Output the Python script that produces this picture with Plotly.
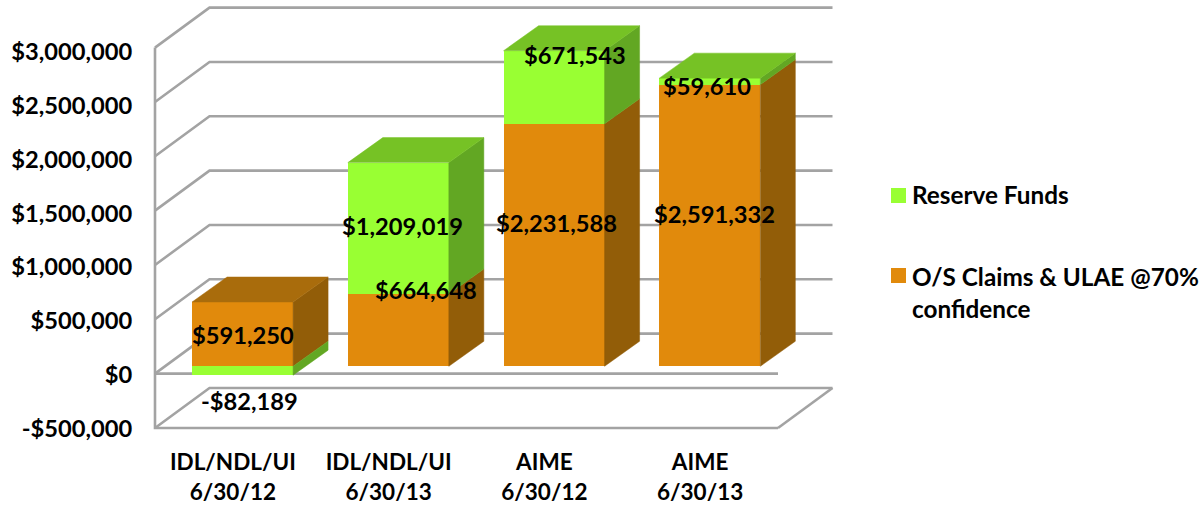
import plotly.graph_objects as go

categories = ["IDL/NDL/UI<br>6/30/12", "IDL/NDL/UI<br>6/30/13", "AIME<br>6/30/12", "AIME<br>6/30/13"]
os_claims = [591250, 664648, 2231588, 2591332]
reserve_funds = [-82189, 1209019, 671543, 59610]
y_ticks = [-500000, 0, 500000, 1000000, 1500000, 2000000, 2500000, 3000000]
y_labels = ["-$500,000", "$0", "$500,000", "$1,000,000", "$1,500,000", "$2,000,000", "$2,500,000", "$3,000,000"]
os_name = "O/S Claims &amp; ULAE @70%<br>confidence"
rf_name = "Reserve Funds"

W, H = 1204, 507
L, R, T, B = 155.0, 778.0, 47.6, 428.0
LABEL_T, LABEL_B = 52.1, 428.4
px_cat = (R - L) / 4
px_val = (B - T) / 3500000
FONT = "Lato, 'Open Sans', sans-serif"
GRID = "#A3A3A3"
ORANGE, ORANGE_TOP, ORANGE_SIDE = "#E18A0C", "#A96C0C", "#925D08"
GREEN, GREEN_TOP, GREEN_SIDE = "#99FF33", "#76C225", "#62A723"

# depth of the 3D box and of the bars, in axis units
WALL_DX, WALL_DY = 54.5 / px_cat, 40.0 / px_val
BAR_DX0, BAR_DY0 = 9.7 / px_cat, 7.4 / px_val
BAR_DX, BAR_DY = 35.0 / px_cat, 25.0 / px_val
BAR_W = 101.0 / px_cat


def xd(p):
    return -0.5 + (p - L) / px_cat


def yd(p):
    return (B - p) / px_val - 500000


fig = go.Figure()

# carrier of the labelled front axes
fig.add_trace(go.Scatter(x=list(range(4)), y=[0] * 4, mode="markers", marker=dict(opacity=0),
                         hoverinfo="skip", showlegend=False))

# wall and floor lines, plus the front axis lines
gx, gy = [], []
for v in y_ticks:
    gx += [-0.5, -0.5 + WALL_DX, 3.5 + WALL_DX, None]
    gy += [v, v + WALL_DY, v + WALL_DY, None]
gx += [-0.5, 3.5, None, 3.5, 3.5 + WALL_DX, None, -0.5, -0.5, 3.5, None]
gy += [0, 0, None, -500000, -500000 + WALL_DY, None, 3000000, -500000, -500000, None]
fig.add_trace(go.Scatter(x=gx, y=gy, xaxis="x2", yaxis="y2", mode="lines", line=dict(color=GRID, width=2.6),
                         hoverinfo="skip", showlegend=False))

xs = [i + BAR_DX0 for i in range(4)]
base_o = [BAR_DY0] * 4
base_r = [BAR_DY0 + (o if r >= 0 else 0) for o, r in zip(os_claims, reserve_funds)]


def polygons(color, polys):
    xx, yy = [], []
    for p in polys:
        xx += [q[0] for q in p] + [p[0][0], None]
        yy += [q[1] for q in p] + [p[0][1], None]
    fig.add_trace(go.Scatter(x=xx, y=yy, xaxis="x3", yaxis="y3", mode="lines", fill="toself",
                             fillcolor=color, line=dict(color=color, width=0.5),
                             hoverinfo="skip", showlegend=False))


def side(i, low, high):
    x1 = xs[i] + BAR_W / 2
    return [(x1, low), (x1 + BAR_DX, low + BAR_DY), (x1 + BAR_DX, high + BAR_DY), (x1, high)]


def top(i, h):
    x0, x1 = xs[i] - BAR_W / 2, xs[i] + BAR_W / 2
    return [(x0, h), (x1, h), (x1 + BAR_DX, h + BAR_DY), (x0 + BAR_DX, h + BAR_DY)]


fig.add_trace(go.Bar(x=xs, y=os_claims, base=base_o, width=BAR_W, xaxis="x3", yaxis="y3",
                     marker=dict(color=ORANGE, line_width=0), name="O/S Claims", showlegend=False, hoverinfo="skip"))
fig.add_trace(go.Bar(x=xs, y=reserve_funds, base=base_r, width=BAR_W, xaxis="x3", yaxis="y3",
                     marker=dict(color=GREEN, line_width=0), name=rf_name, showlegend=False, hoverinfo="skip"))

polygons(ORANGE_SIDE, [side(i, base_o[i], base_o[i] + os_claims[i]) for i in range(4)])
polygons(GREEN_SIDE, [side(i, base_r[i], base_r[i] + reserve_funds[i]) for i in range(4)])
polygons(ORANGE_TOP, [top(i, base_o[i] + os_claims[i]) for i in range(4) if reserve_funds[i] < 0])
polygons(GREEN_TOP, [top(i, base_r[i] + reserve_funds[i]) for i in range(4) if reserve_funds[i] >= 0])


def money(v):
    return ("-" if v < 0 else "") + "${:,}".format(abs(v))


# data labels sit where the original hand-placed them
os_label_px = [(243, 335), (425.5, 290), (556.5, 223), (714, 214)]
rf_label_px = [(249, 401), (402, 226), (575, 55), (707, 86)]
for vals, where in ((os_claims, os_label_px), (reserve_funds, rf_label_px)):
    for v, (px, py) in zip(vals, where):
        fig.add_annotation(x=xd(px), y=yd(py), xref="x2", yref="y2", text=money(v), showarrow=False,
                           font=dict(family=FONT, size=23.7, color="black", weight="bold"))

# legend
for name, color, ty, ly in ((rf_name, GREEN, 195.5, 195), (os_name, ORANGE, 275.5, 292)):
    fig.add_shape(type="rect", xref="paper", yref="paper", x0=891 / W, x1=906 / W,
                  y0=1 - (ty + 7.5) / H, y1=1 - (ty - 7.5) / H, fillcolor=color, line_width=0)
    fig.add_annotation(x=910 / W, y=1 - ly / H, xref="paper", yref="paper", text=name, showarrow=False,
                       xanchor="left", align="left",
                       font=dict(family=FONT, size=24.3, color="black", weight="bold"))

x_full = [xd(0), xd(W)]
y_full = [yd(H), yd(0)]
fig.update_layout(
    width=W, height=H, autosize=False, paper_bgcolor="white", plot_bgcolor="rgba(0,0,0,0)",
    margin=dict(l=0, r=0, t=0, b=0, pad=0, autoexpand=False),
    barmode="overlay", bargap=0, showlegend=False,
    font=dict(family=FONT, size=24, color="black", weight="bold"),
    xaxis=dict(domain=[L / W, R / W], range=[-0.5, 3.5], tickvals=list(range(4)), ticktext=categories,
               showgrid=False, zeroline=False, showline=False,
               ticks="outside", ticklen=14, tickcolor="rgba(0,0,0,0)",
               tickfont=dict(family=FONT, size=22.5, weight="bold", color="black")),
    yaxis=dict(domain=[1 - LABEL_B / H, 1 - LABEL_T / H], range=[-500000, 3000000], tickvals=y_ticks, ticktext=y_labels,
               showgrid=False, zeroline=False, showline=False,
               ticks="outside", ticklen=17, tickcolor="rgba(0,0,0,0)",
               tickfont=dict(family=FONT, size=23.7, weight="bold", color="black")),
    xaxis2=dict(domain=[0, 1], range=x_full, visible=False, anchor="y2"),
    yaxis2=dict(domain=[0, 1], range=y_full, visible=False, anchor="x2"),
    xaxis3=dict(domain=[0, 1], range=x_full, overlaying="x2", visible=False, anchor="y3"),
    yaxis3=dict(domain=[0, 1], range=y_full, overlaying="y2", visible=False, anchor="x3"),
)

fig.write_html("out.html", config=dict(displayModeBar=False), post_script="document.body.style.margin='0';")
